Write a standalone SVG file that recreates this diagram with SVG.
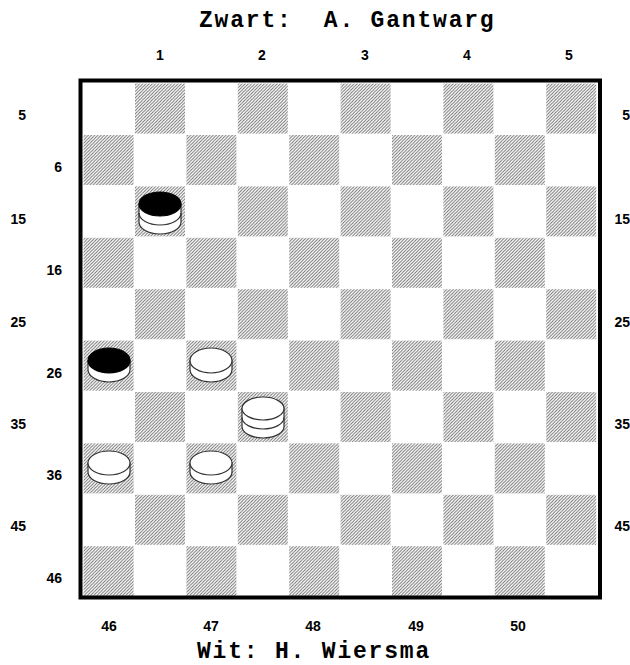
<svg xmlns="http://www.w3.org/2000/svg" xmlns:xlink="http://www.w3.org/1999/xlink" width="630" height="665" viewBox="0 0 630 665">
<style>
.title{font-family:"Courier New","Liberation Mono",monospace;font-weight:bold;font-size:23px;letter-spacing:1.8px;fill:#000;white-space:pre}
.lbl{font-family:"Liberation Sans",Arial,sans-serif;font-weight:bold;font-size:14px;fill:#000}
.mid{text-anchor:middle}
.end{text-anchor:end}
.dk{fill:url(#hatch)}
.side{fill:#fff;stroke:#333;stroke-width:1.2}
.topW{fill:#fff;stroke:#333;stroke-width:1.2}
.topB{fill:#000;stroke:#000;stroke-width:1.2}
.seam{fill:none;stroke:#333;stroke-width:1.2}
</style>
<defs>
<pattern id="hatch" patternUnits="userSpaceOnUse" width="3.2" height="3.2">
<path d="M-1,1 L1,-1 M0,3.2 L3.2,0 M2.2,4.2 L4.2,2.2" stroke="#666" stroke-width="0.9"/>
</pattern>
<g id="rowE">
<rect class="dk" x="135" y="1" width="50" height="50"/>
<rect class="dk" x="237.8" y="1" width="50" height="50"/>
<rect class="dk" x="340.6" y="1" width="50" height="50"/>
<rect class="dk" x="443.4" y="1" width="50" height="50"/>
<rect class="dk" x="546.2" y="1" width="50" height="50"/>
</g>
<g id="rowO">
<rect class="dk" x="83.6" y="1" width="50" height="50"/>
<rect class="dk" x="186.4" y="1" width="50" height="50"/>
<rect class="dk" x="289.2" y="1" width="50" height="50"/>
<rect class="dk" x="392" y="1" width="50" height="50"/>
<rect class="dk" x="494.8" y="1" width="50" height="50"/>
</g>
</defs>
<rect width="630" height="665" fill="#fff"/>
<text class="title" x="199" y="27" xml:space="preserve">Zwart:  A. Gantwarg</text>
<text class="title" x="197" y="658">Wit: H. Wiersma</text>

<g id="board">
<use xlink:href="#rowE" y="82.6"/>
<use xlink:href="#rowO" y="134"/>
<use xlink:href="#rowE" y="185.4"/>
<use xlink:href="#rowO" y="236.8"/>
<use xlink:href="#rowE" y="288.2"/>
<use xlink:href="#rowO" y="339.6"/>
<use xlink:href="#rowE" y="391"/>
<use xlink:href="#rowO" y="442.4"/>
<use xlink:href="#rowE" y="493.8"/>
<use xlink:href="#rowO" y="545.2"/>
<rect x="80.5" y="80.5" width="519.5" height="517" fill="none" stroke="#000" stroke-width="4"/>
</g>

<g id="labels">
<text class="lbl mid" x="160" y="60">1</text>
<text class="lbl mid" x="262" y="60">2</text>
<text class="lbl mid" x="365" y="60">3</text>
<text class="lbl mid" x="467" y="60">4</text>
<text class="lbl mid" x="569" y="60">5</text>
<text class="lbl mid" x="109" y="631">46</text>
<text class="lbl mid" x="211" y="631">47</text>
<text class="lbl mid" x="313" y="631">48</text>
<text class="lbl mid" x="416" y="631">49</text>
<text class="lbl mid" x="518" y="631">50</text>
<text class="lbl end" x="26" y="120">5</text>
<text class="lbl end" x="62" y="172">6</text>
<text class="lbl end" x="26" y="223.5">15</text>
<text class="lbl end" x="62" y="275">16</text>
<text class="lbl end" x="26" y="326.5">25</text>
<text class="lbl end" x="62" y="377.5">26</text>
<text class="lbl end" x="26" y="428.5">35</text>
<text class="lbl end" x="62" y="480">36</text>
<text class="lbl end" x="26" y="531">45</text>
<text class="lbl end" x="62" y="582.5">46</text>
<text class="lbl end" x="630" y="120">5</text>
<text class="lbl end" x="630" y="223.5">15</text>
<text class="lbl end" x="630" y="326.5">25</text>
<text class="lbl end" x="630" y="428.5">35</text>
<text class="lbl end" x="630" y="531">45</text>
</g>

<g id="piece-black-king">
<path class="side" d="M139,204 L139,222 A21,12 0 0 0 181,222 L181,204 Z"/>
<path class="seam" d="M139,213 A21,12 0 0 0 181,213"/>
<ellipse class="topB" cx="160" cy="204" rx="21" ry="12"/>
</g>
<g id="piece-black-man">
<path class="side" d="M88,360.5 L88,369.5 A21,12.5 0 0 0 130,369.5 L130,360.5 Z"/>
<ellipse class="topB" cx="109" cy="360.5" rx="21" ry="12.5"/>
</g>
<g id="piece-white-26">
<path class="side" d="M190,360.5 L190,369.5 A21,12.5 0 0 0 232,369.5 L232,360.5 Z"/>
<ellipse class="topW" cx="211" cy="360.5" rx="21" ry="12.5"/>
</g>
<g id="piece-white-king">
<path class="side" d="M242,408.5 L242,426.5 A21,11.5 0 0 0 284,426.5 L284,408.5 Z"/>
<path class="seam" d="M242,417.5 A21,11.5 0 0 0 284,417.5"/>
<ellipse class="topW" cx="263" cy="408.5" rx="21" ry="11.5"/>
</g>
<g id="piece-white-36a">
<path class="side" d="M88,463 L88,472 A21,12 0 0 0 130,472 L130,463 Z"/>
<ellipse class="topW" cx="109" cy="463" rx="21" ry="12"/>
</g>
<g id="piece-white-36b">
<path class="side" d="M190,463 L190,472 A21,12 0 0 0 232,472 L232,463 Z"/>
<ellipse class="topW" cx="211" cy="463" rx="21" ry="12"/>
</g>
<g id="connectors"/>
</svg>
